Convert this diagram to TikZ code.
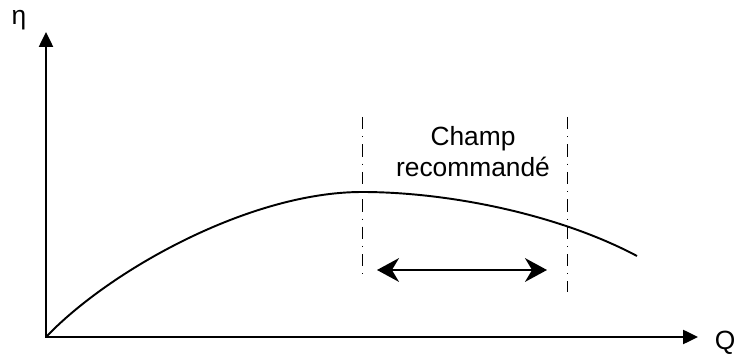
\documentclass[tikz,border=0pt]{standalone}
\usepackage{fontspec}
\setmainfont{Liberation Sans}
\usetikzlibrary{arrows.meta}
\tikzset{
	axis line/.style={
		line width=1.2pt,
		line cap=rect,
		-{Triangle[length=8.5pt, width=8pt]}
	},
	limit line/.style={
		line width=0.55pt,
		dash pattern=on 7pt off 4pt on 0.6pt off 4pt
	},
	range arrow/.style={
		line width=1.3pt,
		{Stealth[length=12.5pt, width=13.5pt, inset=4pt]}-{Stealth[length=12.5pt, width=13.5pt, inset=4pt]}
	},
	axis label/.style={
		font=\fontsize{15}{17.6}\selectfont,
		inner sep=0pt
	},
}

\begin{document}
\begin{tikzpicture}[x=0.02cm, y=-0.02cm]
\useasboundingbox (0,0) rectangle (741,354);

\coordinate (origin) at (46,337);
\coordinate (eta-end) at (46,32);
\coordinate (Q-end) at (698,337);

\node [axis label] (eta) at (19,20) {η};
\node [axis label] (Q) at (725,343) {Q};

\draw [axis line] (origin) -- (eta-end);
\draw [axis line] (origin) -- (Q-end);

% courbe de rendement
\coordinate (peak) at (362,192);
\coordinate (curve-end) at (637,256);
\draw [line width=1.1pt] (origin)
	.. controls (110,270) and (250,192) .. (peak)
	.. controls (450,192) and (560,215) .. (curve-end);

\foreach \n/\x/\b in {left/362/280, right/567/292}
	\draw [limit line] (\x,117) coordinate (limit-\n-top)
		-- (\x,\b) coordinate (limit-\n-bottom);

\coordinate (range-start) at (377,270);
\coordinate (range-end) at (547,270);
\draw [range arrow] (range-start) -- (range-end);

\node [axis label, align=center] (champ) at (473,152) {Champ\\recommandé};

\end{tikzpicture}
\end{document}
